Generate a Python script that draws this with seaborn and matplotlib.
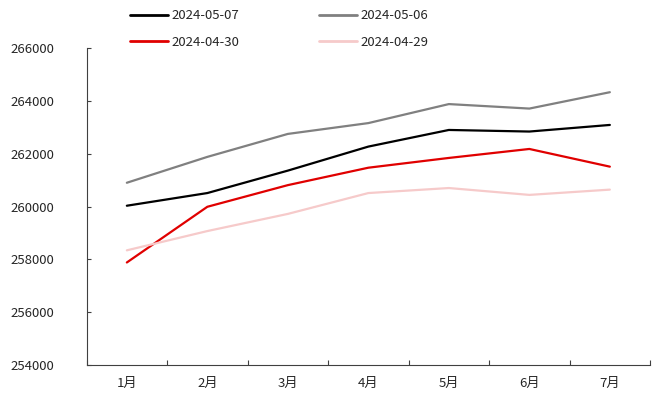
import pandas as pd
import matplotlib.pyplot as plt
import seaborn as sns

# Data
months = ["1月", "2月", "3月", "4月", "5月", "6月", "7月"]
s_0507 = [260030, 260510, 261360, 262270, 262900, 262840, 263090]
s_0506 = [260900, 261880, 262750, 263160, 263880, 263710, 264330]
s_0430 = [257880, 259990, 260810, 261470, 261840, 262180, 261510]
s_0429 = [258340, 259070, 259720, 260510, 260700, 260440, 260640]
series_names = ["2024-05-07", "2024-05-06", "2024-04-30", "2024-04-29"]
colors = ["#000000", "#808080", "#E00000", "#F6CACA"]


def build_frame():
    frames = []
    for name, vals in zip(series_names, [s_0507, s_0506, s_0430, s_0429]):
        frames.append(pd.DataFrame({"month": months, "value": vals, "series": name}))
    return pd.concat(frames, ignore_index=True)


def main():
    sns.set_style("white")
    plt.rcParams["font.family"] = ["Noto Sans CJK SC", "DejaVu Sans"]

    df = build_frame()
    fig = plt.figure(figsize=(6.56, 4.01), dpi=100)
    ax = fig.add_axes([0.132, 0.09, 0.859, 0.79])

    sns.lineplot(data=df, x="month", y="value", hue="series",
                 hue_order=series_names, palette=colors,
                 linewidth=1.6, sort=False, ax=ax, legend=False)

    ax.set_xlim(-0.5, len(months) - 0.5)
    ax.set_ylim(254000, 266000)
    ax.set_yticks(range(254000, 266001, 2000))
    ax.set_yticklabels([str(v) for v in range(254000, 266001, 2000)], fontsize=9.5)
    ax.set_xticks(range(len(months)))
    ax.set_xticklabels(months, fontsize=9.5)
    ax.set_xticks([i + 0.5 for i in range(-1, len(months))], minor=True)
    ax.tick_params(axis="x", which="major", bottom=False, length=0, pad=9)
    ax.tick_params(axis="x", which="minor", bottom=True, direction="in",
                   length=3.5, width=0.8, color="#404040")
    ax.tick_params(axis="y", left=True, direction="in", length=3, width=0.8,
                   color="#404040", pad=23)
    ax.set_xlabel("")
    ax.set_ylabel("")

    for side in ["top", "right"]:
        ax.spines[side].set_visible(False)
    for side in ["left", "bottom"]:
        ax.spines[side].set_color("#404040")
        ax.spines[side].set_linewidth(0.8)

    # legend: 2x2 above the plot
    handles = [plt.Line2D([], [], color=c, linewidth=2) for c in colors]
    order = [0, 2, 1, 3]
    fig.legend([handles[i] for i in order], [series_names[i] for i in order],
               ncol=2, loc="upper left", bbox_to_anchor=(0.18, 1.006),
               frameon=False, fontsize=9.5, handlelength=2.85, handletextpad=0.3,
               columnspacing=6.05, labelspacing=1.0)

    fig.savefig("out.png", dpi=100)


if __name__ == "__main__":
    main()
